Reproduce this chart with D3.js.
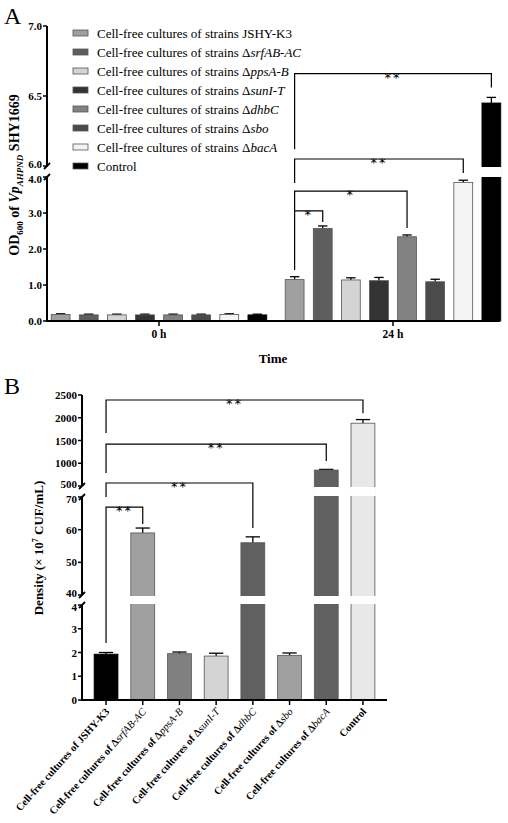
<!DOCTYPE html>
<html><head><meta charset="utf-8">
<script src="https://cdn.jsdelivr.net/npm/d3@7"></script>
<style>body{margin:0;background:#fff}svg{font-family:"Liberation Serif","Times New Roman",serif}text{fill:#000}</style>
</head><body><div id="chart"></div>
<script>
// ---- data ----
const groupsA = ["0 h", "24 h"];
const strainsA = [
  ["", "JSHY-K3", ""], ["Δ", "srfAB-AC", "i"], ["Δ", "ppsA-B", "i"], ["Δ", "sunI-T", "i"],
  ["Δ", "dhbC", "i"], ["Δ", "sbo", "i"], ["Δ", "bacA", "i"], ["", "Control", "c"]
];
const colorsA = ["#a0a0a0", "#5e5e5e", "#d4d4d4", "#333333", "#828282", "#4b4b4b", "#f4f4f4", "#000000"];
const meanA0 = [0.18, 0.17, 0.17, 0.17, 0.17, 0.17, 0.18, 0.17];
const errA0 = [0.02, 0.02, 0.02, 0.02, 0.02, 0.02, 0.02, 0.02];
const meanA24 = [1.15, 2.57, 1.14, 1.12, 2.34, 1.09, 3.85, 6.45];
const errA24 = [0.08, 0.07, 0.06, 0.09, 0.05, 0.07, 0.06, 0.04];
const ticksA = [0, 1, 2, 3, 4, 6, 6.5, 7];
// brackets: [from, to, level, leftEnd, rightEnd, label]
const bracketsA = [
  [0, 1, 3.06, 1.42, 2.75, "*"],
  [0, 4, 3.61, 3.06, 2.58, "*"],
  [0, 6, 6.05, 3.83, 4.73, "**"],
  [0, 7, 6.66, 6.12, 6.56, "**"]
];

const catsB = [
  ["", "JSHY-K3"], ["Δ", "srfAB-AC"], ["Δ", "ppsA-B"], ["Δ", "sunI-T"],
  ["Δ", "dhbC"], ["Δ", "sbo"], ["Δ", "bacA"], ["", "Control"]
];
const colorsB = ["#000000", "#a0a0a0", "#808080", "#d4d4d4", "#606060", "#a0a0a0", "#606060", "#e8e8e8"];
const meanB = [1.93, 59, 1.95, 1.85, 56, 1.88, 850, 1880];
const errB = [0.07, 1.5, 0.07, 0.12, 1.8, 0.1, 15, 80];
const ticksB = [0, 1, 2, 3, 4, 40, 50, 60, 70, 500, 1000, 1500, 2000, 2500];
const bracketsB = [
  [0, 1, 66.9, 2.4, 61.7, "**"],
  [0, 4, 566, 70, 60.5, "**"],
  [0, 6, 1420, 785, 1050, "**"],
  [0, 7, 2390, 1665, 2100, "**"]
];

const W = 508, H = 823;
const svg = d3.select("#chart").append("svg").attr("width", W).attr("height", H);

function drawBreakAxis(g, x, segs, y, ticks, fmt) {
  segs.forEach(([a, b], si) => {
    g.append("line").attr("x1", x).attr("x2", x).attr("y1", y(a)).attr("y2", y(b))
      .attr("stroke", "#000").attr("stroke-width", 2);
    const marks = [];
    if (si > 0) marks.push(y(a));
    if (si < segs.length - 1) marks.push(y(b));
    marks.forEach(yy => {
      g.append("line").attr("x1", x - 3).attr("x2", x + 3).attr("y1", yy + 3).attr("y2", yy - 3)
        .attr("stroke", "#000").attr("stroke-width", 1.8);
    });
  });
  ticks.forEach((t, i) => {
    // nudge labels that sit on either side of a break
    const seg = segs.findIndex(s => t >= s[0] && t <= s[1]);
    let dy = 0;
    if (seg > 0 && t === segs[seg][0]) dy = -2;
    if (seg < segs.length - 1 && t === segs[seg][1]) dy = 2;
    g.append("line").attr("x1", x - 4).attr("x2", x).attr("y1", y(t)).attr("y2", y(t))
      .attr("stroke", "#000").attr("stroke-width", 1.5);
    g.append("text").attr("x", x - 5).attr("y", y(t) + 4 + dy).attr("text-anchor", "end")
      .attr("font-size", 11).attr("font-weight", "bold").text(fmt(t));
  });
}

function bracket(g, x1, x2, yl, yL, yR, label) {
  g.append("path").attr("d", `M${x1},${yL}V${yl}H${x2}V${yR}`)
    .attr("fill", "none").attr("stroke", "#000").attr("stroke-width", 1.2);
  g.append("text").attr("x", (x1 + x2) / 2).attr("y", yl + 8).attr("text-anchor", "middle")
    .attr("font-family", "DejaVu Sans").attr("font-size", 13).attr("letter-spacing", 2).attr("fill", "#000").text(label);
}

// ---------- Panel A ----------
{
  const g = svg.append("g");
  const y = d3.scaleLinear().domain([0, 4, 6, 7]).range([321, 177, 166, 26]);
  const xG = d3.scalePoint().domain(groupsA).range([159, 393]);
  const xS = d3.scaleBand().domain(d3.range(8)).range([-112, 112]).paddingInner(0.33).paddingOuter(0.15);
  const bw = xS.bandwidth();
  const rows = [];
  groupsA.forEach((gr, gi) => {
    const m = gi === 0 ? meanA0 : meanA24, e = gi === 0 ? errA0 : errA24;
    m.forEach((v, i) => rows.push({ x: xG(gr) + xS(i), v, e: e[i], c: colorsA[i] }));
  });
  rows.forEach(d => {
    g.append("line").attr("x1", d.x + bw / 2).attr("x2", d.x + bw / 2).attr("y1", y(d.v)).attr("y2", y(d.v + d.e)).attr("stroke", "#000").attr("stroke-width", 1.3);
    g.append("line").attr("x1", d.x + bw * 0.25).attr("x2", d.x + bw * 0.75).attr("y1", y(d.v + d.e)).attr("y2", y(d.v + d.e)).attr("stroke", "#000").attr("stroke-width", 1.3);
    g.append("rect").attr("x", d.x).attr("width", bw).attr("y", y(d.v)).attr("height", y(0) - y(d.v))
      .attr("fill", d.c).attr("stroke", d.c === "#000000" ? "#000" : "#555").attr("stroke-width", 0.8);
    if (d.v > 6) g.append("rect").attr("x", d.x - 1).attr("width", bw + 2).attr("y", y(6) + 1).attr("height", y(4) - y(6) - 1).attr("fill", "#fff");
  });
  bracketsA.forEach(([a, b, lv, le, re, lab]) => {
    bracket(g, xG("24 h") + xS(a) + bw / 2, xG("24 h") + xS(b) + bw / 2, y(lv), y(le), y(re), lab);
  });
  drawBreakAxis(g, 47, [[0, 4], [6, 7]], y, ticksA, d3.format(".1f"));
  g.append("line").attr("x1", 46).attr("x2", 500).attr("y1", 321).attr("y2", 321).attr("stroke", "#000").attr("stroke-width", 2);
  groupsA.forEach(gr => {
    g.append("line").attr("x1", xG(gr)).attr("x2", xG(gr)).attr("y1", 321).attr("y2", 326).attr("stroke", "#000").attr("stroke-width", 1.5);
    g.append("text").attr("x", xG(gr)).attr("y", 338).attr("text-anchor", "middle").attr("font-size", 11.5).attr("font-weight", "bold").text(gr);
  });
  g.append("text").attr("x", 273).attr("y", 363).attr("text-anchor", "middle").attr("font-size", 13).attr("font-weight", "bold").text("Time");
  const yl = g.append("text").attr("transform", "translate(19,175) rotate(-90)").attr("text-anchor", "middle").attr("font-size", 14).attr("font-weight", "bold");
  yl.append("tspan").text("OD");
  yl.append("tspan").attr("font-size", 9).attr("dy", 4).text("600");
  yl.append("tspan").attr("dy", -4).text(" of ");
  yl.append("tspan").attr("font-style", "italic").text("Vp");
  yl.append("tspan").attr("font-size", 9).attr("dy", 4).attr("font-style", "italic").text("AHPND");
  yl.append("tspan").attr("dy", -4).text(" SHY1669");
  g.append("text").attr("x", 4).attr("y", 24).attr("font-size", 24).text("A");
  // legend
  const ly = d3.scalePoint().domain(d3.range(8)).range([33, 166]);
  strainsA.forEach(([pre, name, st], i) => {
    g.append("rect").attr("x", 73).attr("y", ly(i) - 3).attr("width", 15).attr("height", 6)
      .attr("fill", colorsA[i]).attr("stroke", "#555").attr("stroke-width", 0.8);
    const t = g.append("text").attr("x", 97).attr("y", ly(i) + 4.5).attr("font-size", 13);
    if (st === "c") { t.text(name); return; }
    t.append("tspan").text("Cell-free cultures of strains " + pre);
    t.append("tspan").attr("font-style", st === "i" ? "italic" : null).text(name);
  });
}

// ---------- Panel B ----------
{
  const g = svg.append("g");
  const y = d3.scaleLinear().domain([0, 4, 40, 70, 500, 2500]).range([700, 605, 595, 497, 486, 395]);
  const x = d3.scaleBand().domain(d3.range(8)).range([82, 387]).paddingInner(0.35).paddingOuter(0.33);
  const bw = x.bandwidth();
  meanB.forEach((v, i) => {
    const x0 = x(i), c = colorsB[i];
    g.append("line").attr("x1", x0 + bw / 2).attr("x2", x0 + bw / 2).attr("y1", y(v)).attr("y2", y(v + errB[i])).attr("stroke", "#000").attr("stroke-width", 1.3);
    g.append("line").attr("x1", x0 + bw * 0.2).attr("x2", x0 + bw * 0.8).attr("y1", y(v + errB[i])).attr("y2", y(v + errB[i])).attr("stroke", "#000").attr("stroke-width", 1.3);
    g.append("rect").attr("x", x0).attr("width", bw).attr("y", y(v)).attr("height", y(0) - y(v))
      .attr("fill", c).attr("stroke", c === "#000000" ? "#000" : "#555").attr("stroke-width", 0.8);
    [[4, 40], [70, 500]].forEach(([a, b]) => {
      if (v > b) g.append("rect").attr("x", x0 - 1).attr("width", bw + 2).attr("y", y(b) + 1).attr("height", y(a) - y(b) - 2).attr("fill", "#fff");
    });
  });
  bracketsB.forEach(([a, b, lv, le, re, lab]) => {
    bracket(g, x(a) + bw / 2, x(b) + bw / 2, y(lv), y(le), y(re), lab);
  });
  drawBreakAxis(g, 82, [[0, 4], [40, 70], [500, 2500]], y, ticksB, d3.format("d"));
  g.append("line").attr("x1", 81).attr("x2", 387).attr("y1", 700).attr("y2", 700).attr("stroke", "#000").attr("stroke-width", 2);
  catsB.forEach(([pre, name], i) => {
    const cx = x(i) + bw / 2;
    g.append("line").attr("x1", cx).attr("x2", cx).attr("y1", 700).attr("y2", 705).attr("stroke", "#000").attr("stroke-width", 1.5);
    const t = g.append("text").attr("transform", `translate(${cx + 4},${712}) rotate(-48)`)
      .attr("text-anchor", "end").attr("font-size", 10.5).attr("font-weight", "bold");
    if (name === "Control") { t.text(name); return; }
    t.append("tspan").text("Cell-free cultures of " + pre);
    t.append("tspan").attr("font-style", pre ? "italic" : null).attr("font-weight", pre ? "normal" : "bold").text(name);
  });
  const yl = g.append("text").attr("transform", "translate(43,548) rotate(-90)").attr("text-anchor", "middle").attr("font-size", 13).attr("font-weight", "bold");
  yl.append("tspan").text("Density (× 10");
  yl.append("tspan").attr("font-size", 8).attr("dy", -5).text("7");
  yl.append("tspan").attr("dy", 5).text(" CUF/mL)");
  g.append("text").attr("x", 4).attr("y", 394).attr("font-size", 24).text("B");
}
</script></body></html>
